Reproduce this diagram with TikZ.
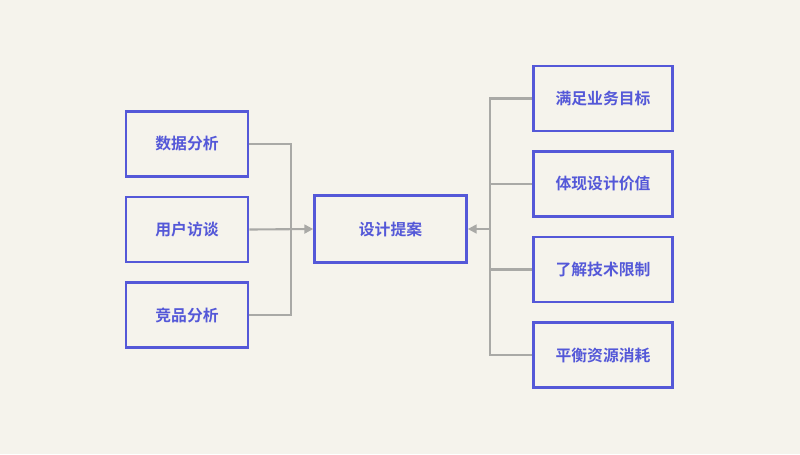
\documentclass[tikz,border=0pt]{standalone}
\usepackage{fontspec}
\usepackage{tikz}
\newfontfamily\cjk[BoldFont={Noto Sans CJK SC Bold}]{Noto Sans CJK SC}
\definecolor{bgcol}{HTML}{F5F3EC}
\definecolor{boxblue}{HTML}{5458D8}
\definecolor{linegray}{HTML}{A9A9A6}
\tikzstyle{card} = [rectangle, minimum width = 2.44cm, minimum height=1.3cm, text centered, draw = boxblue, line width=1.5pt, text=boxblue, font=\cjk\bfseries\fontsize{9pt}{11pt}\selectfont]
\tikzstyle{wide} = [card, minimum width = 3.04cm, minimum height=1.34cm]
\tikzstyle{goal} = [card, minimum width = 2.78cm]
\tikzstyle{link} = [draw=linegray, line width=1.2pt]
\tikzstyle{arrow} = [link, -{Triangle[length=5pt,width=5pt]}]
\usetikzlibrary{arrows.meta, positioning}

\begin{document}
\begin{tikzpicture}[x=0.02cm, y=-0.02cm]
          \fill[bgcol] (0,0) rectangle (800,454);
          \node[card] (data) at (187,144){数据分析};
          \node[card] (user) at (187,229.5){用户访谈};
          \node[card] (rival) at (187,315){竞品分析};
          \node[wide] (plan) at (390.5,229){设计提案};
          \node[goal] (goal1) at (603,98.5){满足业务目标};
          \node[goal] (goal2) at (603,184){体现设计价值};
          \node[goal] (goal3) at (603,269.5){了解技术限制};
          \node[goal] (goal4) at (603,355){平衡资源消耗};
        
          \coordinate (lbus) at (291,229);
          \coordinate (rbus) at (490,229);
          \draw[link](data.east) -| (lbus) |- (rival.east);
          \draw[arrow](user.east) -- (plan.west);
          \draw[link](goal1.west) -| (rbus) |- (goal4.west);
          \draw[link](goal2.west) -| (rbus) |- (goal3.west);
          \draw[arrow](rbus) -- (plan.east);
        \end{tikzpicture}
\end{document}
